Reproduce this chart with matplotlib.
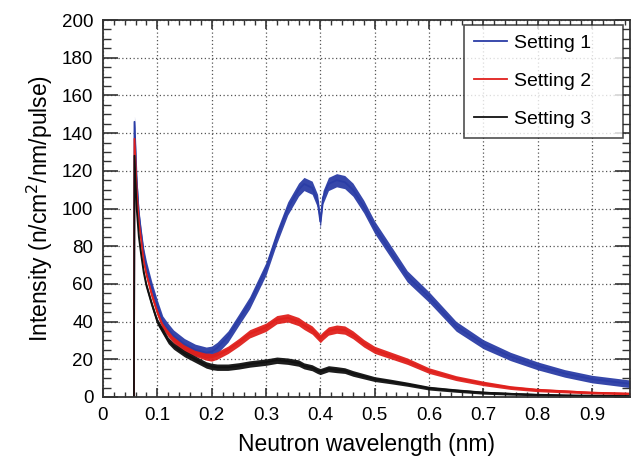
import matplotlib
matplotlib.use("Agg")
import matplotlib.pyplot as plt
from matplotlib.ticker import MultipleLocator

plt.rcParams['font.family'] = ['Liberation Sans', 'DejaVu Sans']

# wavelength grid (nm)
wavelength = [0.057, 0.058, 0.062, 0.066, 0.07, 0.075, 0.08, 0.09, 0.10, 0.11, 0.12, 0.13,
              0.15, 0.17, 0.19, 0.20, 0.21, 0.23, 0.25, 0.27, 0.30, 0.32, 0.34,
              0.36, 0.37, 0.385, 0.395, 0.40, 0.405, 0.415, 0.43, 0.445, 0.46,
              0.48, 0.50, 0.53, 0.56, 0.60, 0.65, 0.70, 0.75, 0.80, 0.85, 0.90, 0.97]

setting1 = [0, 146, 115, 97, 87, 76, 69, 58, 48.5, 40, 36, 32.5,
            28, 25, 23.5, 24, 26, 32, 41, 50, 68, 85, 100,
            110, 113, 111, 104, 93, 106, 113, 115, 114, 110,
            101, 90, 77, 64, 53, 37.5, 28, 21.5, 16.5, 12.5, 9.5, 7]
setting1_spread = [0, 3, 3, 3, 3, 3, 3, 3, 3, 3, 3, 3,
                   3, 3, 3, 3, 3, 3, 3, 3.2, 3.4, 3.5, 3.5,
                   3.5, 3.5, 3.5, 3.5, 3.5, 3.5, 3.5, 3.5, 3.5, 3.5,
                   3.4, 3.3, 3.2, 3.0, 2.8, 2.6, 2.4, 2.2, 2.1, 2.0, 2.0, 2.0]

setting2 = [0, 137, 110, 93, 84, 72, 65, 54, 45, 38, 34, 30.5,
            26, 23.5, 21.5, 21, 22, 25, 29, 33.5, 37, 41, 42,
            40, 38, 35.5, 32.5, 31, 32.5, 35, 36, 35.5, 33,
            28.5, 25, 22, 19, 14, 10, 7.2, 5, 3.7, 3, 2.3, 1.8]
setting2_spread = [0, 2, 2, 2, 2, 2, 2, 2, 2, 2, 2, 2,
                   2, 2, 2, 2, 2, 2, 2.1, 2.2, 2.2, 2.2, 2.2,
                   2.2, 2.2, 2.2, 2.2, 2.2, 2.2, 2.2, 2.2, 2.2, 2.1,
                   2.0, 1.9, 1.8, 1.7, 1.5, 1.3, 1.2, 1.0, 0.9, 0.8, 0.7, 0.6]

setting3 = [0, 128, 100, 85, 76, 66, 59, 49, 40, 35, 30, 27,
            23, 20, 17, 16.2, 15.8, 15.8, 16.5, 17.5, 18.5, 19.5, 19,
            18, 16.5, 15.5, 14, 13.5, 14, 15, 14.5, 14, 12.5,
            11, 9.5, 8.2, 6.8, 4.7, 3.4, 2.3, 1.7, 1.2, 0.9, 0.7, 0.5]
setting3_spread = [0, 1.7, 1.7, 1.7, 1.7, 1.7, 1.7, 1.7, 1.7, 1.7, 1.7, 1.7,
                   1.7, 1.7, 1.7, 1.7, 1.7, 1.7, 1.7, 1.7, 1.7, 1.7, 1.7,
                   1.7, 1.6, 1.6, 1.6, 1.6, 1.6, 1.6, 1.6, 1.5, 1.5,
                   1.4, 1.3, 1.2, 1.1, 1.0, 0.9, 0.8, 0.7, 0.6, 0.5, 0.5, 0.5]

series = [
    ("Setting 1", setting1, setting1_spread, "#2b3da6"),
    ("Setting 2", setting2, setting2_spread, "#e0201c"),
    ("Setting 3", setting3, setting3_spread, "#111111"),
]

fig = plt.figure(figsize=(6.42, 4.59), dpi=100)
ax = fig.add_axes([0.1604, 0.1351, 0.8209, 0.8213])

for name, vals, spread, col in series:
    lo = [v - s for v, s in zip(vals, spread)]
    hi = [v + s for v, s in zip(vals, spread)]
    ax.fill_between(wavelength, lo, hi, color=col, lw=0, alpha=0.95)
    ax.plot(wavelength, vals, color=col, lw=1.3, label=name)

ax.set_xlim(0, 0.97)
ax.set_ylim(0, 200)
ax.xaxis.set_minor_locator(MultipleLocator(0.02))
ax.yaxis.set_major_locator(MultipleLocator(20))
ax.yaxis.set_minor_locator(MultipleLocator(5))
ax.set_xticks([0, 0.1, 0.2, 0.3, 0.4, 0.5, 0.6, 0.7, 0.8, 0.9])
ax.set_xticklabels(["0", "0.1", "0.2", "0.3", "0.4", "0.5", "0.6", "0.7", "0.8", "0.9"])

ax.grid(True, which='major', linestyle=(0, (1, 2)), color='#555555', lw=0.9)
ax.set_axisbelow(True)

ax.tick_params(axis='both', which='both', direction='in', top=True, right=True,
               colors='#333333', labelcolor='black', labelsize=13.5)
ax.tick_params(axis='y', which='major', length=11, width=1.2, pad=7)
ax.tick_params(axis='y', which='minor', length=5.5, width=1.0)
ax.tick_params(axis='x', which='major', length=6.5, width=1.2, pad=7)
ax.tick_params(axis='x', which='minor', length=3.5, width=1.0)
for sp in ax.spines.values():
    sp.set_color('#333333')
    sp.set_linewidth(1.3)

ax.set_xlabel("Neutron wavelength (nm)", fontsize=16.5, labelpad=7)
ax.set_ylabel("Intensity (n/cm$^2$/nm/pulse)", fontsize=16.5, labelpad=5)

leg = ax.legend(loc='upper left', bbox_to_anchor=(0.685, 0.987, 0.302, 0.0),
                mode='expand', fontsize=14, frameon=True, fancybox=False,
                edgecolor='#222222', handlelength=1.7, handletextpad=0.36,
                borderaxespad=0.0, labelspacing=1.05, borderpad=0.5)
leg.get_frame().set_linewidth(1.2)
for line in leg.get_lines():
    line.set_linewidth(1.3)

fig.savefig("out.png", dpi=100, facecolor='white')
